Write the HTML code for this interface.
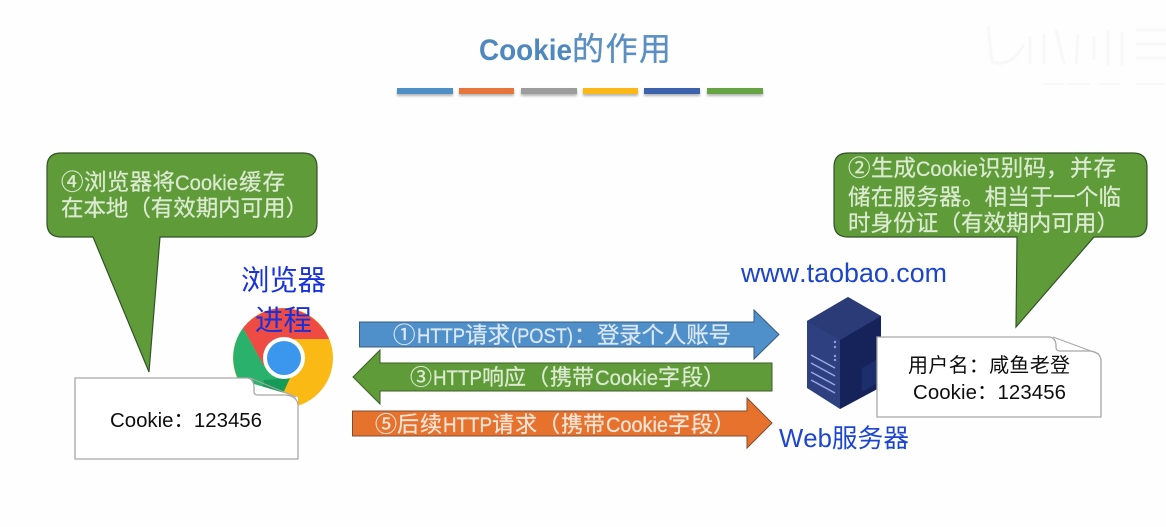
<!DOCTYPE html>
<html>
<head>
<meta charset="utf-8">
<style>
html,body{margin:0;padding:0;background:#fefefe;width:1166px;height:527px;overflow:hidden}
svg{display:block}
text{font-family:"Liberation Sans","Noto Sans CJK SC",sans-serif;text-spacing-trim:space-all;font-kerning:none}
.g text{fill:#dcead2;stroke:#dcead2;stroke-width:.25}
.u text{fill:#dbe8f4;stroke:#dbe8f4;stroke-width:.25}
.o text{fill:#f8e4d6;stroke:#f8e4d6;stroke-width:.25}
</style>
</head>
<body>
<svg width="1166" height="527" viewBox="0 0 1166 527" xmlns="http://www.w3.org/2000/svg">
<defs>
<filter id="s" x="-10%" y="-50%" width="120%" height="250%"><feGaussianBlur stdDeviation="1.2"/></filter>
<filter id="b" x="-5%" y="-5%" width="110%" height="110%"><feGaussianBlur stdDeviation="0.35"/></filter>
</defs>
<rect width="1166" height="527" fill="#fefefe"/>

<!-- faint watermark -->
<g fill="none" stroke="#f8f8f8" stroke-width="3">
<path d="M988 26 L992 62 Q1012 68 1024 44"/>
<path d="M1030 36 L1030 64 M1044 34 L1044 64 M1056 30 L1064 64 M1078 34 L1076 64 M1094 36 L1094 60"/>
<path d="M1108 30 V66 M1122 32 V66 M1136 30 H1166 M1136 44 H1166 M1136 58 H1166"/>
<path d="M1044 84 H1064 M1068 84 H1090 M1100 84 H1120 M1136 84 H1164" stroke-width="2"/>
</g>

<g filter="url(#b)">
<!-- title -->
<text x="479" y="60" font-size="30" font-weight="700" fill="#4f87bf" textLength="93" lengthAdjust="spacingAndGlyphs">Cookie</text>
<text x="572" y="60" font-size="32" fill="#5a8fc4" stroke="#5a8fc4" stroke-width=".35" textLength="99">的作用</text>

<!-- bars -->
<g fill="#9a9a9a" filter="url(#s)" opacity=".75">
<rect x="397" y="90" width="56" height="6"/><rect x="459" y="90" width="55" height="6"/>
<rect x="521" y="90" width="56" height="6"/><rect x="583" y="90" width="55" height="6"/>
<rect x="644" y="90" width="56" height="6"/><rect x="707" y="90" width="56" height="6"/>
</g>
<rect x="397" y="88" width="56" height="6" fill="#4f8fc6"/>
<rect x="459" y="88" width="55" height="6" fill="#e5743a"/>
<rect x="521" y="88" width="56" height="6" fill="#9c9c9c"/>
<rect x="583" y="88" width="55" height="6" fill="#fbb812"/>
<rect x="644" y="88" width="56" height="6" fill="#3c62ad"/>
<rect x="707" y="88" width="56" height="6" fill="#65a344"/>

<!-- left callout -->
<path d="M61 153 H303 Q317 153 317 167 V223 Q317 237 303 237 H160 L149 372 L93 237 H61 Q47 237 47 223 V167 Q47 153 61 153 Z" fill="#5f9b37" stroke="#33522a" stroke-width="1.2"/>
<g class="g" font-size="22.500">
<text x="61" y="190" textLength="23">④</text>
<text x="84" y="190" textLength="91">浏览器将</text>
<text x="175" y="190" font-size="21" textLength="63" lengthAdjust="spacingAndGlyphs">Cookie</text>
<text x="239" y="190" textLength="46">缓存</text>
<text x="61" y="216" textLength="247">在本地（有效期内可用）</text>
</g>

<!-- chrome -->
<circle cx="283" cy="358" r="50" fill="#fbb916"/>
<path d="M329 339 A50 50 0 0 0 243 328 L264 366 L283 339 Z" fill="#ef4b45"/>
<path d="M243 328 A50 50 0 0 0 260 402 L290 378 L264 366 Z" fill="#2bb26d"/>
<path d="M264 380 L290 378 L280 400 L262 396 Z" fill="#129a58"/>
<circle cx="284" cy="358" r="21" fill="#fff"/>
<circle cx="284" cy="358" r="17" fill="#3a96ee"/>

<!-- browser label -->
<text x="241" y="290" font-size="28.5" fill="#1730d8" textLength="85">浏览器</text>
<text x="255" y="330" font-size="28.5" fill="#1730d8" textLength="57">进程</text>

<!-- left note -->
<path d="M75 378 H246 Q252 379 254 384 L298 397 V459 H75 Z" fill="#fff"/>
<path d="M75 378 H248 Q253 379 254 386 V392 Q254 395 258 395 H286 Q296 396 298 404 V459 H75 Z" fill="#fff" stroke="#a8a8a8" stroke-width="1.3"/>
<path d="M250 378 L296 397" fill="none" stroke="#a8a8a8" stroke-width="1"/>
<text x="110" y="427" font-size="20.400" fill="#111" textLength="152">Cookie：123456</text>

<!-- arrows -->
<path d="M359.500 322 H754 V310 L779 334.500 L754 359 V347 H359.500 Z" fill="#4f8fca" stroke="#3a5c7c" stroke-width="1"/>
<g class="u" font-size="22.500">
<text x="393" y="343" textLength="23">①</text>
<text x="417" y="343" font-size="21" textLength="48" lengthAdjust="spacingAndGlyphs">HTTP</text>
<text x="465" y="343" textLength="45">请求</text>
<text x="511" y="343" font-size="21" textLength="62" lengthAdjust="spacingAndGlyphs">(POST)</text>
<text x="574" y="343" textLength="23">：</text>
<text x="597" y="343" textLength="134">登录个人账号</text>
</g>

<path d="M772 363 H380 V350 L353 377 L380 404 V391 H772 Z" fill="#5f9b37" stroke="#3e5f2c" stroke-width="1"/>
<g class="g" font-size="22">
<text x="410" y="385" textLength="22">③</text>
<text x="433" y="385" font-size="21" textLength="49" lengthAdjust="spacingAndGlyphs">HTTP</text>
<text x="482" y="385" textLength="44">响应</text>
<text x="527" y="385" textLength="22">（</text>
<text x="550" y="385" textLength="44">携带</text>
<text x="595" y="385" font-size="21" textLength="63" lengthAdjust="spacingAndGlyphs">Cookie</text>
<text x="658" y="385" textLength="45">字段</text>
<text x="703" y="385" textLength="22">）</text>
</g>

<path d="M352.500 411 H747 V398 L772 423 L747 448 V436 H352.500 Z" fill="#e7722d" stroke="#7c4f35" stroke-width="1"/>
<g class="o" font-size="22">
<text x="375" y="432" textLength="22">⑤</text>
<text x="397" y="432" textLength="45">后续</text>
<text x="443" y="432" font-size="21" textLength="49" lengthAdjust="spacingAndGlyphs">HTTP</text>
<text x="492" y="432" textLength="45">请求</text>
<text x="538" y="432" textLength="22">（</text>
<text x="561" y="432" textLength="44">携带</text>
<text x="606" y="432" font-size="21" textLength="62" lengthAdjust="spacingAndGlyphs">Cookie</text>
<text x="668" y="432" textLength="45">字段</text>
<text x="713" y="432" textLength="22">）</text>
</g>

<!-- server -->
<path d="M848 297 L881 316 V387 L840 409 L807 388 V321 Z" fill="#2d4080"/>
<path d="M840 340 L881 316 V387 L840 409 Z" fill="#14205a"/>
<path d="M848 297 L881 316 L840 340 L807 321 Z" fill="#2b3a78"/>
<g stroke="#98aae0" stroke-width="1.500">
<path d="M811 355 L835 368 M811 363 L835 376 M811 372 L835 385 M811 380 L835 393"/>
</g>
<g fill="#8fa2da"><circle cx="835" cy="342" r="1.200"/><circle cx="835" cy="347" r="1.200"/><circle cx="835" cy="356" r="1.200"/><circle cx="835" cy="360" r="1.200"/></g>
<path d="M862 368 L876 360 V384 L862 392 Z" fill="#1f2d6c"/>

<!-- server labels -->
<text x="741" y="282" font-size="26.800" fill="#1c44c8" textLength="206">www.taobao.com</text>
<text x="779" y="447" font-size="25.700" fill="#1c44d0" textLength="130">Web服务器</text>

<!-- right note -->
<path d="M877 337 H1050 Q1055 338 1056 344 V347 Q1056 351 1060 351 H1090 Q1100 352 1101 360 V417 H877 Z" fill="#fff" stroke="#a8a8a8" stroke-width="1.300"/>
<path d="M1053 337 L1099 354" fill="none" stroke="#a8a8a8" stroke-width="1"/>
<text x="908" y="372" font-size="20" fill="#111" textLength="162">用户名：咸鱼老登</text>
<text x="913" y="399" font-size="20.400" fill="#111" textLength="153">Cookie：123456</text>

<!-- right callout -->
<path d="M848 153 H1133 Q1147 153 1147 167 V223 Q1147 237 1133 237 H1094 L1016 327 L1017 237 H848 Q834 237 834 223 V167 Q834 153 848 153 Z" fill="#5f9b37" stroke="#33522a" stroke-width="1.200"/>
<g class="g" font-size="22.500">
<text x="848" y="176" textLength="23">②</text>
<text x="871" y="176" textLength="45">生成</text>
<text x="916" y="176" font-size="21" textLength="62" lengthAdjust="spacingAndGlyphs">Cookie</text>
<text x="978" y="176" textLength="68">识别码</text>
<text x="1046" y="176" textLength="23">，</text>
<text x="1070" y="176" textLength="46">并存</text>
<text x="848" y="205" textLength="273">储在服务器。相当于一个临</text>
<text x="848" y="231" textLength="271">时身份证（有效期内可用）</text>
</g>
</g>
</svg>
</body>
</html>
